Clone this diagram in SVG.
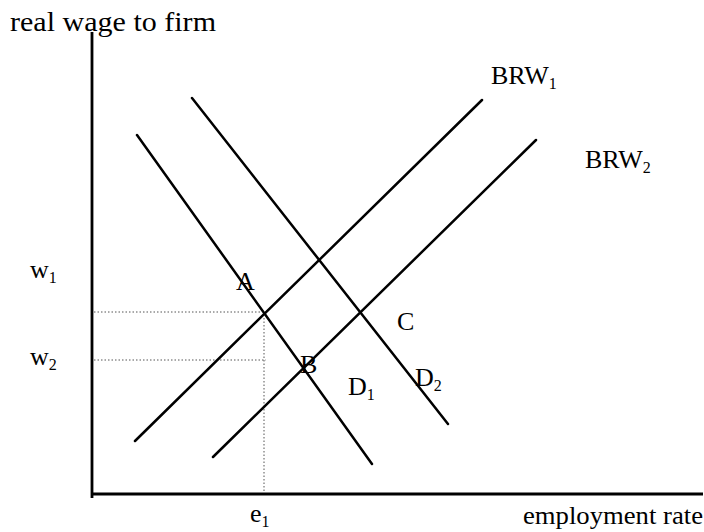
<svg xmlns="http://www.w3.org/2000/svg" width="704" height="532" viewBox="0 0 704 532">
<style>
text{font-family:"Liberation Serif","Times New Roman",serif;fill:#000;font-size:26px}
.sub{font-size:16px}
.ax{stroke:#000;stroke-width:2.8;fill:none}
.ln{stroke:#000;stroke-width:2.5;fill:none;stroke-linecap:round}
.dot{stroke:#555;stroke-width:1;stroke-dasharray:1.5,2;fill:none}
</style>
<rect width="704" height="532" fill="#fff"/>
<g id="axes">
<line class="ax" x1="92" y1="32" x2="92" y2="498"/>
<line class="ax" x1="92" y1="494" x2="703" y2="494"/>
<text x="10" y="31" style="font-size:28px" textLength="206" lengthAdjust="spacingAndGlyphs">real wage to firm</text>
<text x="523" y="524" textLength="180" lengthAdjust="spacingAndGlyphs">employment rate</text>
</g>
<g id="guides">
<line class="dot" x1="94" y1="312" x2="262" y2="312"/>
<line class="dot" x1="94" y1="360" x2="266" y2="360"/>
<line class="dot" x1="264" y1="318" x2="264" y2="493"/>
<text x="30" y="278">w<tspan class="sub" dy="5">1</tspan></text>
<text x="30" y="365">w<tspan class="sub" dy="5">2</tspan></text>
<text x="250" y="522">e<tspan class="sub" dy="5">1</tspan></text>
</g>
<g id="connectors">
<line id="BRW1" class="ln" x1="135" y1="441" x2="482" y2="100"/>
<line id="BRW2" class="ln" x1="213" y1="457" x2="536" y2="140"/>
<line id="D1" class="ln" x1="137" y1="135" x2="372" y2="464"/>
<line id="D2" class="ln" x1="192" y1="98" x2="448" y2="424"/>
</g>
<g id="labels">
<text x="491" y="84">BRW<tspan class="sub" dy="5">1</tspan></text>
<text x="585" y="168">BRW<tspan class="sub" dy="5">2</tspan></text>
<text x="236" y="290">A</text>
<text x="300" y="373">B</text>
<text x="397" y="330">C</text>
<text x="348" y="395">D<tspan class="sub" dy="5">1</tspan></text>
<text x="415" y="386">D<tspan class="sub" dy="5">2</tspan></text>
</g>
</svg>
